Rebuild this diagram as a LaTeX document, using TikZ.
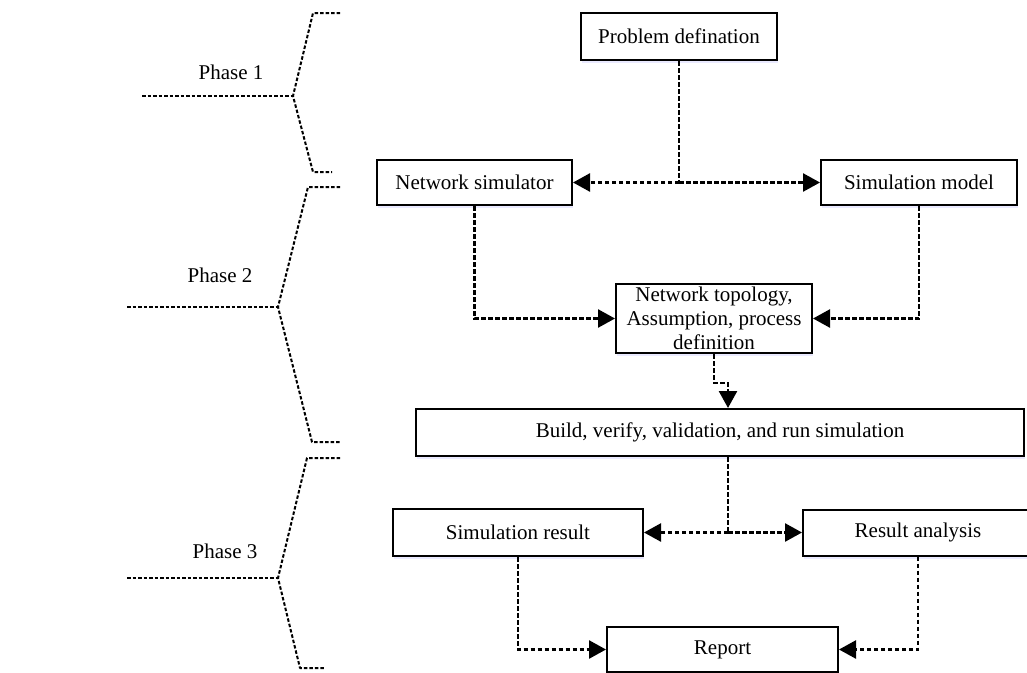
\documentclass[tikz,border=0pt]{standalone}
\usepackage{fontspec}
\setmainfont{Liberation Serif}
\usetikzlibrary{arrows.meta,shadows,calc}
\begin{document}
\begin{tikzpicture}[x=1pt,y=-1pt,
  box/.style={draw,line width=2pt,fill=white,inner sep=0pt,align=center,
    font=\fontsize{21}{25}\selectfont,
    drop shadow={shadow xshift=1pt,shadow yshift=-3pt,fill=blue!10,opacity=0.8}},
  phase/.style={font=\fontsize{21}{25}\selectfont,inner sep=0pt},
  dl/.style={line width=2.5pt,dash pattern=on 4.5pt off 2.5pt},
  arr/.style={dl,-{Triangle[length=17pt,width=18pt]}},
  brace/.style={line width=2pt,dash pattern=on 3.5pt off 2pt,line join=round}]

% page
\fill[white] (0,0) rectangle (1027,672);
\useasboundingbox (0,0) rectangle (1027,672);

% phase brackets
\draw[brace] (340,13) -- (313,13) -- (293,96) -- (313,172) -- (332,172);
\draw[brace] (142,96) -- (293,96);
\draw[brace] (340,187) -- (308,187) -- (278,307) -- (312,442) -- (340,442);
\draw[brace] (127,307) -- (278,307);
\draw[brace] (340,458) -- (307,458) -- (278,578) -- (300,668) -- (325,668);
\draw[brace] (127,578) -- (278,578);

\node[phase] (p1) at (231,72) {Phase 1};
\node[phase] (p2) at (220,275) {Phase 2};
\node[phase] (p3) at (225,551) {Phase 3};

% process boxes
\node[box,minimum width=196pt,minimum height=47pt] (prob)   at (679,36.5)  {Problem defination};
\node[box,minimum width=195pt,minimum height=45pt] (netsim) at (474.5,182.5) {Network simulator};
\node[box,minimum width=196pt,minimum height=45pt] (simmod) at (919,182.5) {Simulation model};
\node[box,minimum width=196pt,minimum height=69pt,font=\fontsize{21}{24}\selectfont] (topo) at (714,318.5)
  {Network topology,\\Assumption, process\\definition};
\node[box,minimum width=608pt,minimum height=47pt] (build)  at (720,432.5) {Build, verify, validation, and run simulation};
\node[box,minimum width=250pt,minimum height=47pt] (simres) at (518,532.5) {Simulation result};
\node[box,minimum width=230pt,minimum height=46pt] (resan)  at (918,532.5) {Result analysis};
\node[box,minimum width=231pt,minimum height=45pt] (report) at (722.5,649.5) {Report};

% connectors
\coordinate (j1) at (prob.south |- netsim.east);
\draw[dl] (prob.south) -- (j1);
\draw[arr] (j1) -- (netsim.east);
\draw[arr] (j1) -- (simmod.west);

\draw[arr] (netsim.south) |- (topo.west);
\draw[arr] (simmod.south) |- (topo.east);

\coordinate (bj) at ($(build.north)+(8,0)$);
\draw[arr] (topo.south) -- ++(0,29) -| (bj);

\coordinate (bs) at (bj |- build.south);
\coordinate (j2) at (bj |- simres.east);
\draw[dl] (bs) -- (j2);
\draw[arr] (j2) -- (simres.east);
\draw[arr] (j2) -- (resan.west);

\draw[arr] (simres.south) |- (report.west);
\draw[arr] (resan.south) |- (report.east);
\end{tikzpicture}
\end{document}
